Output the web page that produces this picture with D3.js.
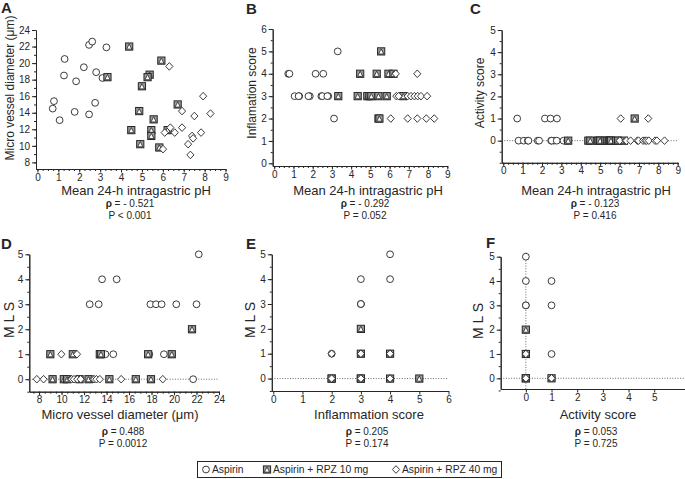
<!DOCTYPE html>
<html>
<head>
<meta charset="utf-8">
<script src="https://cdnjs.cloudflare.com/ajax/libs/d3/7.8.5/d3.min.js"></script>
<style>
body{margin:0;background:#fff;}
svg{font-family:"Liberation Sans", Arial, Helvetica, sans-serif;}
</style>
</head>
<body>
<div id="chart"></div>
<script>

//Data ([x, y] per patient)
//A: pH vs micro vessel diameter
const aspirinA = [[0.73,14.5],[0.79,15.4],[1.06,13.1],[1.30,20.5],[1.27,18.5],[1.85,17.8],[1.78,14.1],[2.22,19.5],
	[2.47,22.2],[2.62,22.6],[2.47,13.8],[2.81,18.9],[2.76,15.2],[3.11,18.2],[3.30,21.9]];
const rpz10A = [[4.39,22.0],[5.93,20.3],[5.37,18.6],[5.27,18.3],[5.00,17.2],[4.87,14.2],[5.56,13.2],[6.71,15.0],
	[4.49,11.9],[5.45,11.9],[5.45,11.2],[4.92,10.2],[5.83,9.8],[6.23,11.9],[3.35,18.3]];
const rpz40A = [[6.31,19.6],[6.92,14.2],[7.51,13.6],[8.28,13.9],[7.93,16.0],[6.92,12.2],[7.83,11.6],[6.36,12.2],
	[6.09,11.6],[6.57,11.6],[7.40,11.2],[7.45,10.9],[7.21,10.2],[7.32,8.9],[6.01,9.6]];

//B: pH vs inflamation score
const aspirinB = [[0.73,4],[0.79,4],[2.15,4],[2.55,4],[3.30,5],[3.11,2],[1.06,3],[1.30,3],[1.27,3],[1.85,3],
	[1.78,3],[2.45,3],[2.50,3],[2.81,3],[2.76,3]];
const rpz10B = [[5.56,5],[4.47,4],[5.33,4],[5.94,4],[6.20,4],[3.33,3],[4.34,3],[4.84,3],[4.95,3],[5.05,3],
	[5.42,3],[5.85,3],[6.71,3],[5.42,2],[5.47,2]];
const rpz40B = [[6.32,4],[7.44,4],[6.35,3],[6.47,3],[6.94,3],[7.11,3],[7.29,3],[7.46,3],[7.63,3],[7.95,3],
	[6.06,2],[6.94,2],[7.44,2],[7.91,2],[8.32,2]];

//C: pH vs activity score
const aspirinC = [[0.72,1],[2.15,1],[2.44,1],[2.77,1],[0.79,0],[1.06,0],[1.27,0],[1.30,0],[1.78,0],[1.85,0],
	[2.47,0],[2.62,0],[2.50,0],[2.76,0],[3.11,0],[3.30,0]];
const rpz10C = [[6.78,1],[3.35,0],[4.39,0],[4.49,0],[4.87,0],[4.92,0],[5.00,0],[5.27,0],[5.37,0],[5.45,0],
	[5.50,0],[5.56,0],[5.83,0],[5.93,0],[6.23,0]];
const rpz40C = [[6.06,1],[7.48,1],[6.01,0],[6.31,0],[6.36,0],[6.57,0],[6.92,0],[6.98,0],[7.21,0],[7.32,0],
	[7.40,0],[7.51,0],[7.83,0],[7.93,0],[8.32,0]];

//D: micro vessel diameter vs MLS
const aspirinD = [[22.2,5],[13.6,4],[14.9,4],[12.5,3],[13.3,3],[17.9,3],[18.4,3],[18.9,3],[20.2,3],[22.0,3],
	[13.9,1],[14.6,1],[17.8,1],[19.1,1],[21.7,0]];
const rpz10D = [[21.6,2],[9.0,1],[11.0,1],[13.4,1],[13.5,1],[17.7,1],[19.8,1],[9.2,0],[10.2,0],[10.5,0],
	[11.6,0],[12.4,0],[14.25,0],[16.6,0],[17.95,0]];
const rpz40D = [[9.98,1],[11.37,1],[7.8,0],[8.4,0],[10.8,0],[10.9,0],[11.1,0],[11.4,0],[11.7,0],[12.8,0],
	[12.9,0],[13.1,0],[13.4,0],[15.3,0],[19.0,0]];

//E: inflammation score vs MLS
const aspirinE = [[4,5],[3,4],[4,4],[3,3],[3,3],[3,3],[2,1],[3,1],[4,1],[4,1],[3,0],[4,0],[5,0]];
const rpz10E = [[3,2],[3,1],[4,1],[2,0],[2,0],[3,0],[3,0],[4,0],[5,0]];
const rpz40E = [[2,1],[2,0],[3,0],[3,1],[4,0],[4,1]];

//F: activity score vs MLS
const aspirinF = [[0,5],[0,4],[1,4],[0,3],[0,3],[1,3],[0,1],[0,1],[1,1],[0,0]];
const rpz10F = [[0,2],[0,1],[0,0],[0,0],[1,0]];
const rpz40F = [[0,1],[0,0],[1,0]];

const groupNames = ['Aspirin','Aspirin + RPZ 10 mg','Aspirin + RPZ 40 mg'];
const rhoTexts = ['- 0.521','- 0.292','- 0.123','0.488','0.205','0.053'];
const pTexts = ['P < 0.001','P = 0.052','P = 0.416','P = 0.0012','P = 0.174','P = 0.725'];


const W = 685, H = 479;
const svg = d3.select('#chart').append('svg')
	.attr('width', W)
	.attr('height', H);

const ink = '#262626';


//Markers
function drawMarks(g, data, kind, x, y){
	const marks = g.selectAll('.mark-' + kind)
		.data(data)
		.enter()
		.append('g')
		.attr('class', 'mark-' + kind)
		.attr('transform', d => `translate(${x(d[0])},${y(d[1])})`);
	addSymbol(marks, kind);
}

function addSymbol(sel, kind){
	if(kind === 'circle'){
		sel.append('circle')
			.attr('r', 3.4)
			.style('fill', '#fff')
			.style('stroke', ink)
			.style('stroke-width', 0.9);
	}else if(kind === 'square'){
		sel.append('rect')
			.attr('x', -3.6).attr('y', -3.6)
			.attr('width', 7.2).attr('height', 7.2)
			.style('fill', '#9a9a9a')
			.style('stroke', ink)
			.style('stroke-width', 1);
		sel.append('path')
			.attr('d', 'M0,-2.6L2.6,2.6L-2.6,2.6Z')
			.style('fill', '#fff')
			.style('stroke', ink)
			.style('stroke-width', 0.8);
	}else{
		sel.append('path')
			.attr('d', 'M0,-3.8L3.6,0L0,3.8L-3.6,0Z')
			.style('fill', '#fff')
			.style('stroke', ink)
			.style('stroke-width', 0.9);
	}
}


function drawPanel(p){
	const x = d3.scaleLinear().domain(p.xDomain).range(p.xRange);
	const y = d3.scaleLinear().domain(p.yDomain).range(p.yRange);
	const g = svg.append('g').attr('class', 'panel');

	const xAxisY = p.yRange[0];
	const yAxisX = p.xRange[0];

	//minor ticks
	if(p.xMinor){
		g.append('g')
			.attr('transform', `translate(0,${xAxisY})`)
			.call(d3.axisBottom(x).tickValues(p.xMinor).tickSize(2).tickSizeOuter(0).tickFormat(''));
	}
	if(p.yMinor){
		g.append('g')
			.attr('transform', `translate(${yAxisX},0)`)
			.call(d3.axisLeft(y).tickValues(p.yMinor).tickSize(2).tickSizeOuter(0).tickFormat(''));
	}

	//major ticks
	g.append('g')
		.attr('class', 'x-axis')
		.attr('transform', `translate(0,${xAxisY})`)
		.call(d3.axisBottom(x).tickValues(p.xTicks).tickSize(3.5).tickPadding(1).tickSizeOuter(0).tickFormat(d3.format('d')));
	g.append('g')
		.attr('class', 'y-axis')
		.attr('transform', `translate(${yAxisX},0)`)
		.call(d3.axisLeft(y).tickValues(p.yTicks).tickSize(4).tickPadding(2).tickSizeOuter(0).tickFormat(d3.format('d')));

	g.selectAll('.domain, .tick line')
		.style('stroke', ink)
		.style('stroke-width', 1);
	g.selectAll('.tick text')
		.style('font-size', '10px')
		.style('fill', ink)
		.style('font-family', '"Liberation Sans", Arial, sans-serif');

	//dotted reference lines
	if(p.zeroH){
		g.append('line')
			.attr('x1', yAxisX).attr('x2', p.xRange[1])
			.attr('y1', y(0)).attr('y2', y(0))
			.style('stroke', '#444')
			.style('stroke-width', 0.8)
			.style('stroke-dasharray', '1,1.6');
	}
	if(p.zeroV){
		g.append('line')
			.attr('x1', x(0)).attr('x2', x(0))
			.attr('y1', y(p.yDomain[1]) - 4).attr('y2', xAxisY)
			.style('stroke', '#444')
			.style('stroke-width', 0.8)
			.style('stroke-dasharray', '1,1.6');
	}

	//points
	drawMarks(g, p.data[0], 'circle', x, y);
	drawMarks(g, p.data[1], 'square', x, y);
	drawMarks(g, p.data[2], 'diamond', x, y);

	//panel letter
	g.append('text')
		.attr('x', p.letterPos[0])
		.attr('y', p.letterPos[1])
		.text(p.letter)
		.style('font-size', '15px')
		.style('font-weight', 'bold')
		.style('fill', ink);

	//axis titles
	g.append('text')
		.attr('transform', `translate(${p.yLabelPos[0]},${p.yLabelPos[1]}) rotate(-90)`)
		.attr('text-anchor', 'middle')
		.attr('dy', '0.35em')
		.text(p.yLabel)
		.style('font-size', p.yLabelSize || '12px')
		.style('fill', ink);

	g.append('text')
		.attr('x', p.xLabelPos[0])
		.attr('y', p.xLabelPos[1])
		.attr('text-anchor', 'middle')
		.text(p.xLabel)
		.style('font-size', '13px')
		.style('fill', ink);

	//statistics
	const rho = g.append('text')
		.attr('x', p.statX)
		.attr('y', p.statY)
		.attr('text-anchor', 'middle')
		.style('font-size', '10px')
		.style('fill', ink);
	rho.append('tspan').style('font-weight', 'bold').text('ρ');
	rho.append('tspan').text(' = ' + p.rho);

	g.append('text')
		.attr('x', p.statX)
		.attr('y', p.statY + 12)
		.attr('text-anchor', 'middle')
		.text(p.pText)
		.style('font-size', '10px')
		.style('fill', ink);
}


const pHTicks = d3.range(0, 10);
const pHMinor = d3.range(0, 9.01, 0.25);
const mlsTicks = d3.range(0, 6);
const mlsMinor = d3.range(-0.5, 5.01, 0.5);

const panels = [
	{letter:'A', letterPos:[1,13], data:[aspirinA, rpz10A, rpz40A],
		xDomain:[-0.07,9], xRange:[36,225.5], yDomain:[7.2,24], yRange:[169,30],
		xTicks:pHTicks, xMinor:pHMinor, yTicks:d3.range(8,25,2), yMinor:d3.range(8,24.01,1),
		yLabel:'Micro vessel diameter (μm)', yLabelPos:[10,88],
		xLabel:'Mean 24-h intragastric pH', xLabelPos:[136,195],
		statX:130, statY:207, rho:rhoTexts[0], pText:pTexts[0]},
	{letter:'B', letterPos:[246,14], data:[aspirinB, rpz10B, rpz40B],
		xDomain:[-0.08,9], xRange:[272.7,447.3], yDomain:[-0.12,6], yRange:[166,29],
		xTicks:pHTicks, xMinor:pHMinor, yTicks:d3.range(0,7), yMinor:d3.range(0,6.01,0.5),
		yLabel:'Inflamation score', yLabelPos:[252,93],
		xLabel:'Mean 24-h intragastric pH', xLabelPos:[368,195],
		statX:365, statY:207, rho:rhoTexts[1], pText:pTexts[1]},
	{letter:'C', letterPos:[470,14], data:[aspirinC, rpz10C, rpz40C],
		xDomain:[-0.08,9], xRange:[501.7,677.7], yDomain:[-1,5], yRange:[162.8,30],
		xTicks:pHTicks, xMinor:pHMinor, yTicks:mlsTicks, yMinor:d3.range(-1,5.01,0.5),
		yLabel:'Activity score', yLabelPos:[480,93], zeroH:true,
		xLabel:'Mean 24-h intragastric pH', xLabelPos:[596,195],
		statX:595, statY:207, rho:rhoTexts[2], pText:pTexts[2]},
	{letter:'D', letterPos:[1,249], data:[aspirinD, rpz10D, rpz40D],
		xDomain:[7.13,24], xRange:[29.3,219], yDomain:[-0.5,5], yRange:[391.7,254.3],
		xTicks:d3.range(8,25,2), xMinor:d3.range(7.5,24.01,0.5), yTicks:mlsTicks, yMinor:mlsMinor,
		yLabel:'M L S', yLabelSize:'14px', yLabelPos:[9,320], zeroH:true,
		xLabel:'Micro vessel diameter (μm)', xLabelPos:[120,419],
		statX:123, statY:434.5, rho:rhoTexts[3], pText:pTexts[3]},
	{letter:'E', letterPos:[246,249], data:[aspirinE, rpz10E, rpz40E],
		xDomain:[-0.05,6], xRange:[271.8,448.5], yDomain:[-0.5,5], yRange:[391,254.3],
		xTicks:d3.range(0,7), yTicks:mlsTicks, yMinor:mlsMinor,
		yLabel:'M L S', yLabelSize:'14px', yLabelPos:[250,320], zeroH:true,
		xLabel:'Inflammation score', xLabelPos:[369,419],
		statX:367, statY:434.5, rho:rhoTexts[4], pText:pTexts[4]},
	{letter:'F', letterPos:[486,248], data:[aspirinF, rpz10F, rpz40F],
		xDomain:[-0.98,6.2], xRange:[500.7,685], yDomain:[-0.44,5], yRange:[389,256.7],
		xTicks:d3.range(0,6), yTicks:mlsTicks, yMinor:mlsMinor,
		yLabel:'M L S', yLabelSize:'14px', yLabelPos:[478,321], zeroH:true, zeroV:true,
		xLabel:'Activity score', xLabelPos:[598,419],
		statX:596, statY:434.5, rho:rhoTexts[5], pText:pTexts[5]}
];

panels.forEach(drawPanel);


//Legend
const legend = svg.append('g').attr('class', 'legend');
legend.append('rect')
	.attr('x', 197.5).attr('y', 461.5)
	.attr('width', 304).attr('height', 16)
	.style('fill', '#fff')
	.style('stroke', ink)
	.style('stroke-width', 1);

const legendX = [206, 267, 396];
const kinds = ['circle','square','diamond'];
const items = legend.selectAll('.item')
	.data(groupNames)
	.enter()
	.append('g')
	.attr('class', 'item')
	.attr('transform', (d,i) => `translate(${legendX[i]},469.5)`);

items.each(function(d,i){
	addSymbol(d3.select(this), kinds[i]);
});

items.append('text')
	.attr('x', 6)
	.attr('dy', '0.35em')
	.text(d => d)
	.style('font-size', '10.3px')
	.style('fill', ink);

</script>
</body>
</html>
